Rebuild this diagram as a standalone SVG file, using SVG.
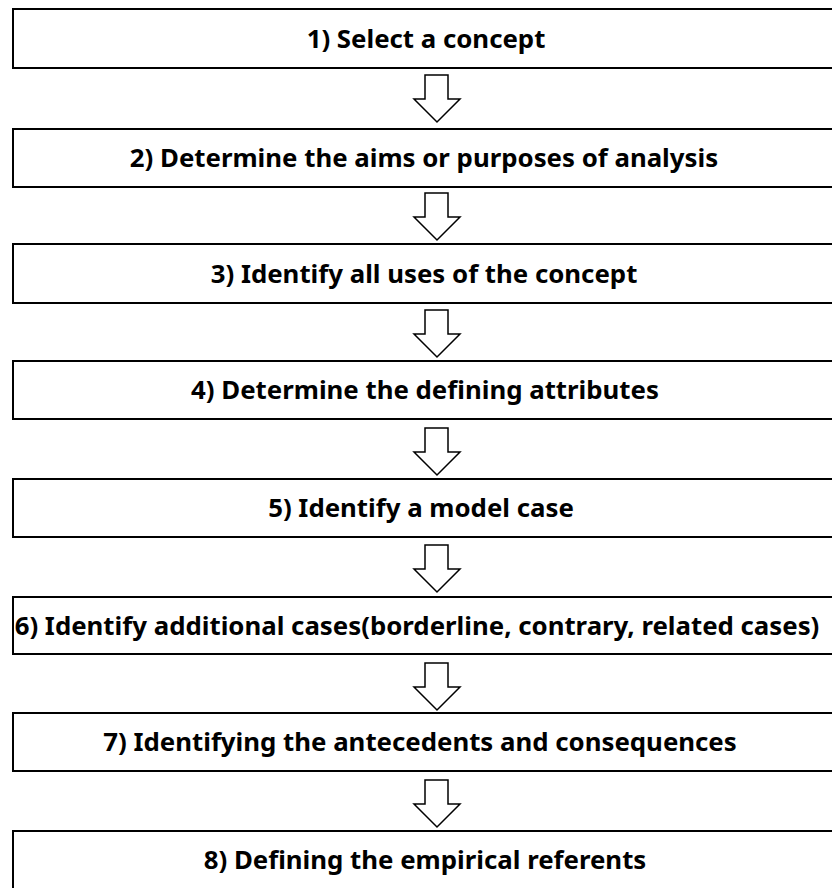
<svg xmlns="http://www.w3.org/2000/svg" width="832" height="888" viewBox="0 0 832 888">
<style>
.box{fill:#fff;stroke:#000;stroke-width:2}
.t{font-family:"Noto Sans","Open Sans",sans-serif;font-weight:bold;font-size:25.8px;text-anchor:middle;fill:#000}
.arr{fill:#fff;stroke:#000;stroke-width:1.5;stroke-linejoin:miter}
</style>
<defs>
<path id="a" class="arr" d="M425,0 H448 V24 H460 L437,47 L414,24 H425 Z"/>
</defs>
<rect width="832" height="888" fill="#fff"/>
<g id="connectors">
<use href="#a" y="75"/>
<use href="#a" y="193"/>
<use href="#a" y="310"/>
<use href="#a" y="428"/>
<use href="#a" y="545"/>
<use href="#a" y="663"/>
<use href="#a" y="780"/>
</g>
<g id="n1"><rect class="box" x="13" y="9" width="830" height="59"/><text class="t" x="426" y="47.5">1) Select a concept</text></g>
<g id="n2"><rect class="box" x="13" y="129" width="830" height="58"/><text class="t" x="424" y="167">2) Determine the aims or purposes of analysis</text></g>
<g id="n3"><rect class="box" x="13" y="244" width="830" height="59"/><text class="t" x="424" y="282.5">3) Identify all uses of the concept</text></g>
<g id="n4"><rect class="box" x="13" y="361" width="830" height="58"/><text class="t" x="425" y="399">4) Determine the defining attributes</text></g>
<g id="n5"><rect class="box" x="13" y="479" width="830" height="58"/><text class="t" x="421" y="517">5) Identify a model case</text></g>
<g id="n6"><rect class="box" x="13" y="597" width="830" height="57"/><text class="t" x="417" y="634.5">6) Identify additional cases(borderline, contrary, related cases)</text></g>
<g id="n7"><rect class="box" x="13" y="713" width="830" height="58"/><text class="t" x="420" y="751">7) Identifying the antecedents and consequences</text></g>
<g id="n8"><rect class="box" x="13" y="831" width="830" height="70"/><text class="t" x="425" y="869">8) Defining the empirical referents</text></g>
</svg>
